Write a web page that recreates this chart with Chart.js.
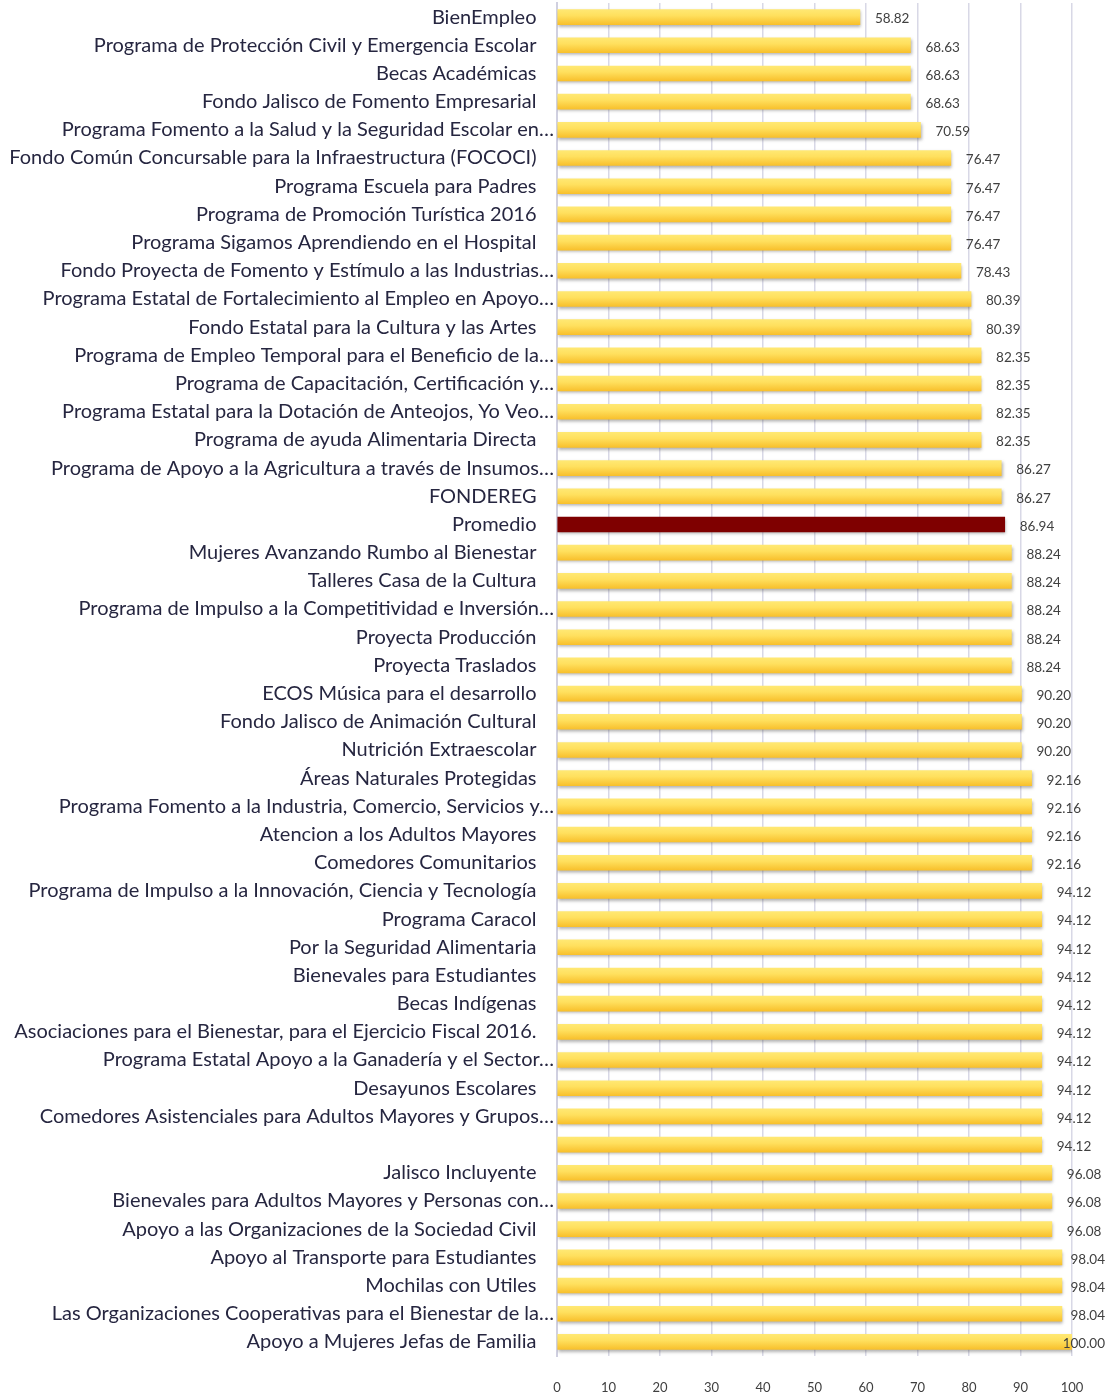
<!DOCTYPE html>
<html>
<head>
<meta charset="utf-8">
<script src="https://cdn.jsdelivr.net/npm/chart.js@4.4.1/dist/chart.umd.min.js"></script>
<style>
  html, body { margin: 0; padding: 0; background: #ffffff; }
  #wrap { width: 1108px; height: 1397px; position: relative; }
</style>
</head>
<body>
<div id="wrap"><canvas id="c" width="1108" height="1397"></canvas></div>
<script>
const categories = [
  "BienEmpleo",
  "Programa de Protección Civil y Emergencia Escolar",
  "Becas Académicas",
  "Fondo Jalisco de Fomento Empresarial",
  "Programa Fomento a la Salud y la Seguridad Escolar en…",
  "Fondo Común Concursable para la Infraestructura (FOCOCI)",
  "Programa Escuela para Padres",
  "Programa de Promoción Turística 2016",
  "Programa Sigamos Aprendiendo en el Hospital",
  "Fondo Proyecta de Fomento y Estímulo a las Industrias…",
  "Programa Estatal de Fortalecimiento al Empleo en Apoyo…",
  "Fondo Estatal para la Cultura y las Artes",
  "Programa de Empleo Temporal para el Beneficio de la…",
  "Programa de Capacitación, Certificación y…",
  "Programa Estatal para la Dotación de Anteojos, Yo Veo…",
  "Programa de ayuda Alimentaria Directa",
  "Programa de Apoyo a la Agricultura a través de Insumos…",
  "FONDEREG",
  "Promedio",
  "Mujeres Avanzando Rumbo al Bienestar",
  "Talleres Casa de la Cultura",
  "Programa de Impulso a la Competitividad e Inversión…",
  "Proyecta Producción",
  "Proyecta Traslados",
  "ECOS Música para el desarrollo",
  "Fondo Jalisco de Animación Cultural",
  "Nutrición Extraescolar",
  "Áreas Naturales Protegidas",
  "Programa Fomento a la Industria, Comercio, Servicios y…",
  "Atencion a los Adultos Mayores",
  "Comedores Comunitarios",
  "Programa de Impulso a la Innovación, Ciencia y Tecnología",
  "Programa Caracol",
  "Por la Seguridad Alimentaria",
  "Bienevales para Estudiantes",
  "Becas Indígenas",
  "Asociaciones para el Bienestar, para el Ejercicio Fiscal 2016.",
  "Programa Estatal Apoyo a la Ganadería y el Sector…",
  "Desayunos Escolares",
  "Comedores Asistenciales para Adultos Mayores y Grupos…",
  "",
  "Jalisco Incluyente",
  "Bienevales para Adultos Mayores y Personas con…",
  "Apoyo a las Organizaciones de la Sociedad Civil",
  "Apoyo al Transporte para Estudiantes",
  "Mochilas con Utiles",
  "Las Organizaciones Cooperativas para el Bienestar de la…",
  "Apoyo a Mujeres Jefas de Familia"
];

const scores = [
  58.82, 68.63, 68.63, 68.63, 70.59, 76.47, 76.47, 76.47, 76.47, 78.43,
  80.39, 80.39, 82.35, 82.35, 82.35, 82.35, 86.27, 86.27, 86.94, 88.24,
  88.24, 88.24, 88.24, 88.24, 90.20, 90.20, 90.20, 92.16, 92.16, 92.16,
  92.16, 94.12, 94.12, 94.12, 94.12, 94.12, 94.12, 94.12, 94.12, 94.12,
  94.12, 96.08, 96.08, 96.08, 98.04, 98.04, 98.04, 100.00
];

const xTicks = [0, 10, 20, 30, 40, 50, 60, 70, 80, 90, 100];

const highlightLabel = "Promedio";
const BAR_THICK = 15;

function barFill(ctx) {
  const chart = ctx.chart;
  const label = categories[ctx.dataIndex];
  if (label === highlightLabel) return '#7f0000';
  if (!chart.chartArea || !chart.scales.y) return '#ffd84a';
  const yc = chart.scales.y.getPixelForValue(ctx.dataIndex);
  const g = chart.ctx.createLinearGradient(0, yc - BAR_THICK / 2, 0, yc + BAR_THICK / 2);
  g.addColorStop(0, '#ffe873');
  g.addColorStop(0.4, '#ffe05e');
  g.addColorStop(1, '#f8c02c');
  return g;
}

const shadowPlugin = {
  id: 'barShadow',
  beforeDatasetsDraw(chart) {
    const c = chart.ctx;
    c.save();
    c.shadowColor = 'rgba(60,60,60,0.4)';
    c.shadowBlur = 3;
    c.shadowOffsetX = 1;
    c.shadowOffsetY = 2;
  },
  afterDatasetsDraw(chart) {
    chart.ctx.restore();
  }
};

const valueLabels = {
  id: 'valueLabels',
  afterDraw(chart) {
    const c = chart.ctx;
    const meta = chart.getDatasetMeta(0);
    const limit = chart.width - 3;
    c.save();
    c.font = '13.5px Lato, "Open Sans", sans-serif';
    c.fillStyle = '#404040';
    c.textBaseline = 'middle';
    c.textAlign = 'left';
    meta.data.forEach((bar, i) => {
      const txt = scores[i].toFixed(2);
      const w = c.measureText(txt).width;
      let x = bar.x + 15;
      if (x + w > limit) x = limit - w;
      c.fillText(txt, x, bar.y + 2);
    });
    c.restore();
  }
};

new Chart(document.getElementById('c'), {
  type: 'bar',
  data: {
    labels: categories,
    datasets: [{
      data: scores,
      backgroundColor: barFill,
      borderWidth: 0,
      barThickness: BAR_THICK
    }]
  },
  options: {
    indexAxis: 'y',
    responsive: false,
    animation: false,
    devicePixelRatio: 1,
    layout: { padding: { top: 3, right: 36, bottom: 0, left: 0 } },
    plugins: {
      legend: { display: false },
      tooltip: { enabled: false }
    },
    scales: {
      x: {
        min: 0,
        max: 100,
        afterBuildTicks(scale) { scale.ticks = xTicks.map(v => ({ value: v })); },
        afterFit(scale) {
          scale.height = 41;
          scale.paddingTop = 0;
          scale.paddingBottom = 0;
        },
        grid: { color: '#d8d8e6', lineWidth: 1.5, drawTicks: false },
        border: { display: false },
        ticks: {
          color: '#404040',
          font: { family: 'Lato, "Open Sans", sans-serif', size: 13 },
          padding: 24,
          maxRotation: 0
        }
      },
      y: {
        afterFit(scale) {
          scale.width = 557;
          scale.paddingTop = 0;
          scale.paddingBottom = 0;
        },
        grid: { display: false, drawTicks: false },
        border: { display: true, color: '#d0d0e0', width: 2 },
        ticks: {
          color: '#262640',
          font: { family: 'Lato, "Open Sans", sans-serif', size: 20 },
          padding: 3,
          autoSkip: false,
          callback(v, i) {
            const s = categories[i];
            if (s === '' || s.endsWith('…')) return s;
            return s + '\u2003\u2009';
          }
        }
      }
    }
  },
  plugins: [shadowPlugin, valueLabels]
});
</script>
</body>
</html>
